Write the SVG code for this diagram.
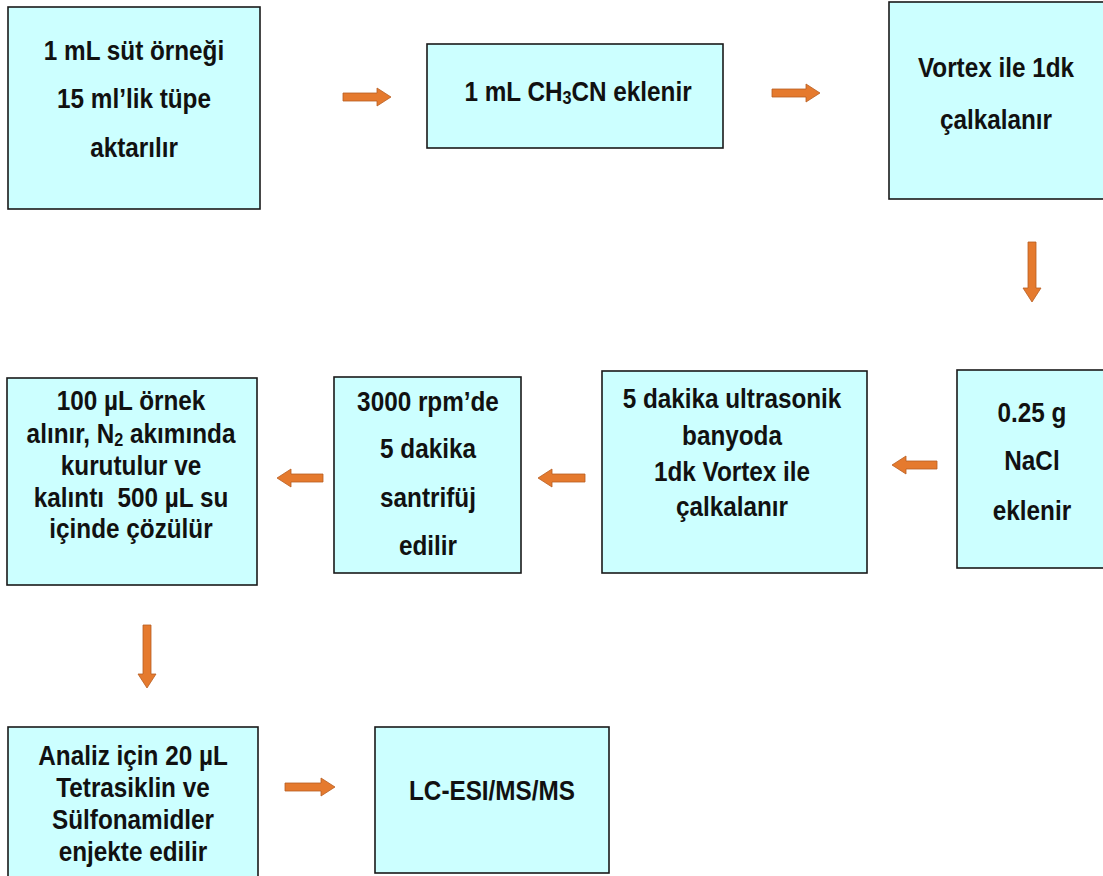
<svg xmlns="http://www.w3.org/2000/svg" width="1103" height="876" viewBox="0 0 1103 876">
<style>
.box{fill:#CCFFFF;stroke:#1a1a1a;stroke-width:1.6}
.t{font-family:"Liberation Sans",Arial,sans-serif;font-weight:bold;font-size:27px;fill:#111;text-anchor:middle;white-space:pre}
.ar{fill:#E57A2E;stroke:#B85E22;stroke-width:0.8}
</style>
<rect width="1103" height="876" fill="#ffffff"/>
<g id="n1"><rect class="box" x="8" y="7" width="252" height="202"/>
<text class="t" transform="translate(134,0) scale(0.9,1)"><tspan x="0" y="60">1 mL süt örneği</tspan><tspan x="0" y="108">15 ml’lik tüpe</tspan><tspan x="0" y="157">aktarılır</tspan></text></g>
<g id="n2"><rect class="box" x="427" y="44" width="296" height="104"/>
<text class="t" transform="translate(578,0) scale(0.9,1)"><tspan x="0" y="101">1 mL CH<tspan font-size="18" dy="3">3</tspan><tspan dy="-3">CN eklenir</tspan></tspan></text></g>
<g id="n3"><rect class="box" x="889" y="2" width="220" height="197"/>
<text class="t" transform="translate(996,0) scale(0.9,1)"><tspan x="0" y="77">Vortex ile 1dk</tspan><tspan x="0" y="129">çalkalanır</tspan></text></g>
<g id="n4"><rect class="box" x="957" y="370" width="152" height="198"/>
<text class="t" transform="translate(1032,0) scale(0.9,1)"><tspan x="0" y="422">0.25 g</tspan><tspan x="0" y="470">NaCl</tspan><tspan x="0" y="520">eklenir</tspan></text></g>
<g id="n5"><rect class="box" x="602" y="371" width="265" height="202"/>
<text class="t" transform="translate(732,0) scale(0.9,1)"><tspan x="0" y="408">5 dakika ultrasonik</tspan><tspan x="0" y="445">banyoda</tspan><tspan x="0" y="481">1dk Vortex ile</tspan><tspan x="0" y="516">çalkalanır</tspan></text></g>
<g id="n6"><rect class="box" x="334" y="377" width="187" height="196"/>
<text class="t" transform="translate(428,0) scale(0.9,1)"><tspan x="0" y="411">3000 rpm’de</tspan><tspan x="0" y="458">5 dakika</tspan><tspan x="0" y="507">santrifüj</tspan><tspan x="0" y="555">edilir</tspan></text></g>
<g id="n7"><rect class="box" x="7" y="378" width="250" height="207"/>
<text class="t" transform="translate(131,0) scale(0.9,1)"><tspan x="0" y="410">100 µL örnek</tspan><tspan x="0" y="443">alınır, N<tspan font-size="18" dy="3">2</tspan><tspan dy="-3"> akımında</tspan></tspan><tspan x="0" y="475">kurutulur ve</tspan><tspan x="0" y="507">kalıntı  500 µL su</tspan><tspan x="0" y="538">içinde çözülür</tspan></text></g>
<g id="n8"><rect class="box" x="8" y="727" width="250" height="155"/>
<text class="t" transform="translate(133,0) scale(0.9,1)"><tspan x="0" y="765">Analiz için 20 µL</tspan><tspan x="0" y="797">Tetrasiklin ve</tspan><tspan x="0" y="829">Sülfonamidler</tspan><tspan x="0" y="861">enjekte edilir</tspan></text></g>
<g id="n9"><rect class="box" x="375" y="727" width="234" height="146"/>
<text class="t" transform="translate(492,0) scale(0.9,1)"><tspan x="0" y="800">LC-ESI/MS/MS</tspan></text></g>
<g id="connectors">
<polygon class="ar" points="343,93 377,93 377,88 391,97 377,106 377,101 343,101"/>
<polygon class="ar" points="772,89 806,89 806,84 820,93 806,102 806,97 772,97"/>
<polygon class="ar" points="1028,242 1036,242 1036,288 1041,288 1032,302 1023,288 1028,288"/>
<polygon class="ar" points="937,461 906,461 906,456 892,465 906,474 906,469 937,469"/>
<polygon class="ar" points="585,474 552,474 552,469 538,478 552,487 552,482 585,482"/>
<polygon class="ar" points="323,474 291,474 291,469 277,478 291,487 291,482 323,482"/>
<polygon class="ar" points="143,625 151,625 151,674 156,674 147,688 138,674 143,674"/>
<polygon class="ar" points="285,783 321,783 321,778 335,787 321,796 321,791 285,791"/>
</g>
</svg>
